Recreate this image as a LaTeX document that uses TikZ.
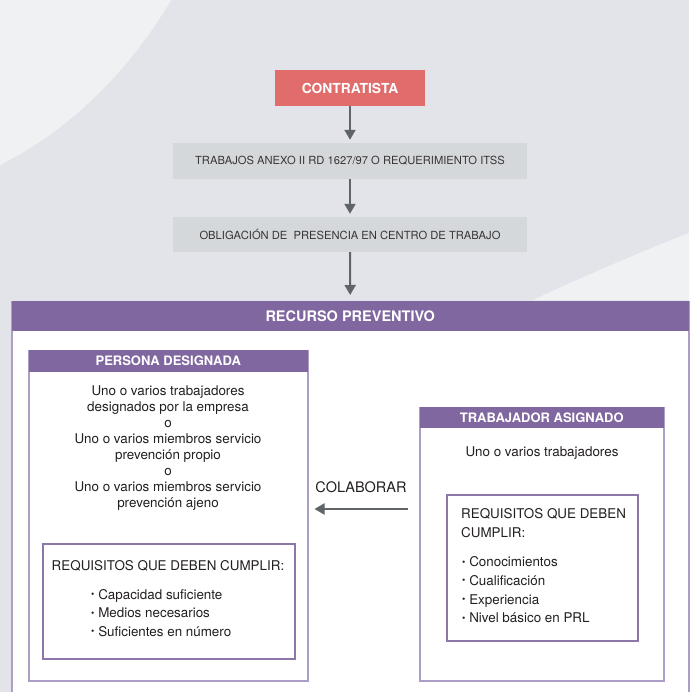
\documentclass[tikz,border=0pt]{standalone}
\usepackage{fontspec}
\setmainfont{TeX Gyre Heros}
\usetikzlibrary{arrows.meta}
\definecolor{fondo}{RGB}{227,228,233}
\definecolor{fondoclaro}{RGB}{240,241,243}
\definecolor{morado}{RGB}{129,103,160}
\definecolor{lila}{RGB}{172,158,198}
\definecolor{rojo}{RGB}{224,108,108}
\definecolor{gris}{RGB}{213,216,218}
\definecolor{flechagris}{RGB}{95,100,104}
\definecolor{texto}{RGB}{35,31,32}
\newcommand{\pto}{\raisebox{0.25ex}{\fontsize{9.5}{9.5}\selectfont\textbullet}\ }

\begin{document}
\begin{tikzpicture}[x=1pt,y=-1pt,
    paso/.style={fill=gris, minimum width=354, minimum height=36, inner sep=0, text=texto!90, font=\fontsize{11.2}{13}\selectfont},
    cabecera/.style={fill=morado, inner sep=0, text=white, font=\bfseries\fontsize{13}{15}\selectfont},
    marco/.style={draw=lila, line width=1.5pt, fill=white, inner sep=0},
    requisitos/.style={draw=morado!90, line width=2pt, inner sep=0},
    cuerpo/.style={inner sep=0, text=texto, font=\fontsize{13.4}{16}\selectfont},
    flecha/.style={draw=flechagris, line width=2pt, -{Triangle[length=10pt,width=11pt]}}]
                \useasboundingbox (0,0) rectangle (689,692);
                \fill[fondo] (0,0) rectangle (689,692);
                \fill[fondoclaro] (0,0) -- (171,0) .. controls (130,70) and (70,130) .. (0,165) -- cycle;
                \fill[fondoclaro] (689,233) .. controls (640,252) and (580,278) .. (533,300) -- (689,300) -- cycle;
                \node[fill=rojo, minimum width=150, minimum height=36, inner sep=0, text=white, font=\bfseries\fontsize{13.8}{15}\selectfont] (contratista) at (350,88) {CONTRATISTA};
                \node[paso] (trabajos) at (350,161) {TRABAJOS ANEXO II RD 1627/97 O REQUERIMIENTO ITSS};
                \node[paso, minimum height=35] (obligacion) at (350,234.5) {OBLIGACIÓN DE\ \ PRESENCIA EN CENTRO DE TRABAJO};
                \node[marco, anchor=north west, minimum width=677, minimum height=420] (recurso) at (11,301) {};
                \node[cabecera, anchor=north, minimum width=677, minimum height=30, font=\bfseries\fontsize{14.5}{16}\selectfont] (recursotit) at (recurso.north) {RECURSO PREVENTIVO};
                \node[marco, anchor=north west, minimum width=279, minimum height=330] (persona) at (28,350) {};
                \node[cabecera, anchor=north, minimum width=279, minimum height=22] (personatit) at (persona.north) {PERSONA DESIGNADA};
                \node[cuerpo, align=center] (personatxt) at (168,448) {Uno o varios trabajadores\\designados por la empresa\\o\\Uno o varios miembros servicio\\prevención propio\\o\\Uno o varios miembros servicio\\prevención ajeno};
                \node[requisitos, anchor=north west, minimum width=252, minimum height=115] (reqpersona) at (42,543) {};
                \node[cuerpo] (reqpersonatit) at (168,566) {REQUISITOS QUE DEBEN CUMPLIR:};
                \node[cuerpo, align=left, anchor=west, font=\fontsize{13.4}{18.5}\selectfont] (reqpersonalista) at (91,613) {\pto Capacidad suficiente\\\pto Medios necesarios\\\pto Suficientes en número};
                \node[marco, anchor=north west, minimum width=244, minimum height=273] (trabajador) at (419,407) {};
                \node[cabecera, anchor=north, minimum width=244, minimum height=21] (trabajadortit) at (trabajador.north) {TRABAJADOR ASIGNADO};
                \node[cuerpo] (trabajadortxt) at (542,453) {Uno o varios trabajadores};
                \node[requisitos, anchor=north west, minimum width=191, minimum height=146] (reqtrabajador) at (446,494) {};
                \node[cuerpo, align=left, anchor=west, font=\fontsize{13.4}{19}\selectfont] (reqtrabajadortit) at (461,523.5) {REQUISITOS QUE DEBEN\\CUMPLIR:};
                \node[cuerpo, align=left, anchor=west, font=\fontsize{13.4}{18.7}\selectfont] (reqtrabajadorlista) at (462,590) {\pto Conocimientos\\\pto Cualificación\\\pto Experiencia\\\pto Nivel básico en PRL};
                \node[cuerpo, font=\fontsize{14.5}{16}\selectfont] (colab) at (361,487) {COLABORAR};
                \coordinate (colabflecha) at (361,509);
                \draw[flecha, shorten >=3pt] (contratista) -- (trabajos);
                \draw[flecha, shorten >=3pt] (trabajos) -- (obligacion);
                \draw[flecha, shorten >=6pt] (obligacion) -- (recursotit);
                \draw[flecha, shorten <=11pt, shorten >=6pt] (trabajador.west |- colabflecha) -- (persona.east |- colabflecha);
            \end{tikzpicture}
\end{document}
